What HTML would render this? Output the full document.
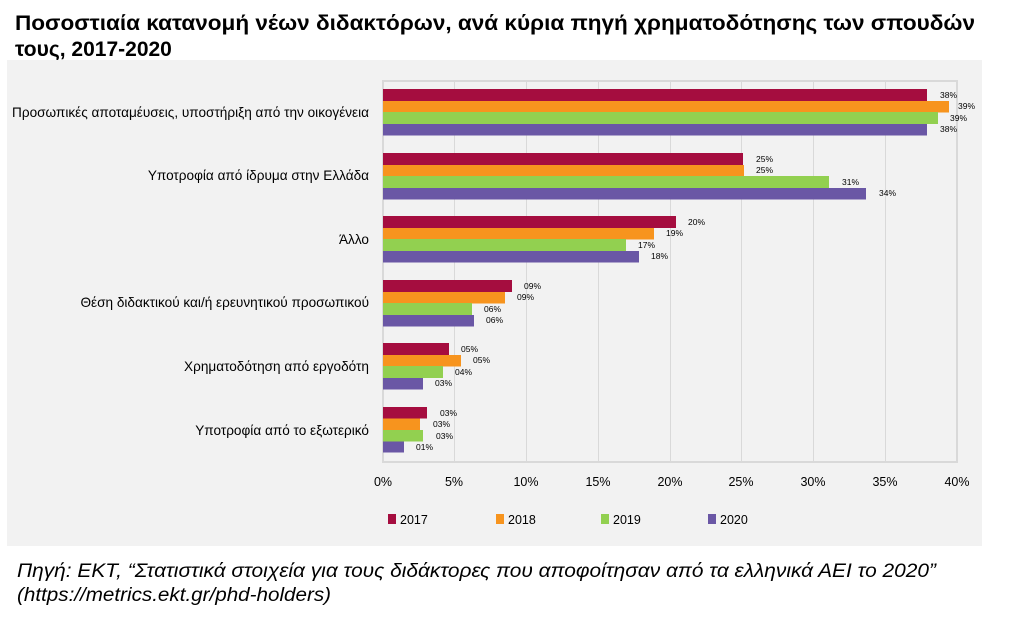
<!DOCTYPE html>
<html><head><meta charset="utf-8"><style>body{margin:0;background:#fff}svg{display:block}</style></head>
<body>
<svg width="1023" height="620" xmlns="http://www.w3.org/2000/svg" font-family="Liberation Sans, DejaVu Sans, sans-serif">
<text x="15" y="30" font-size="21" font-weight="bold" fill="#000" textLength="960" lengthAdjust="spacingAndGlyphs">Ποσοστιαία κατανομή νέων διδακτόρων, ανά κύρια πηγή χρηματοδότησης των σπουδών</text>
<text x="15" y="56" font-size="21" font-weight="bold" fill="#000">τους, 2017-2020</text>
<rect x="7" y="60" width="975" height="486" fill="#f2f2f2"/>
<g stroke="#d9d9d9" stroke-width="1">
<line x1="454.5" y1="81" x2="454.5" y2="462"/><line x1="526.5" y1="81" x2="526.5" y2="462"/>
<line x1="598.5" y1="81" x2="598.5" y2="462"/><line x1="670.5" y1="81" x2="670.5" y2="462"/>
<line x1="741.5" y1="81" x2="741.5" y2="462"/><line x1="813.5" y1="81" x2="813.5" y2="462"/>
<line x1="885.5" y1="81" x2="885.5" y2="462"/>
</g>
<rect x="383" y="81" width="574" height="381" fill="none" stroke="#d9d9d9" stroke-width="2"/>
<g font-size="13.6" fill="#000" text-anchor="end">
<text x="369" y="117">Προσωπικές αποταμέυσεις, υποστήριξη από την οικογένεια</text>
<text x="369" y="180">Υποτροφία από ίδρυμα στην Ελλάδα</text>
<text x="369" y="244">Άλλο</text>
<text x="369" y="307">Θέση διδακτικού και/ή ερευνητικού προσωπικού</text>
<text x="369" y="371">Χρηματοδότηση από εργοδότη</text>
<text x="369" y="435">Υποτροφία από το εξωτερικό</text>
</g>
<g font-size="12.5" fill="#000" text-anchor="middle">
<text x="383" y="486">0%</text><text x="454" y="486">5%</text><text x="526" y="486">10%</text><text x="598" y="486">15%</text><text x="670" y="486">20%</text><text x="741" y="486">25%</text><text x="813" y="486">30%</text><text x="885" y="486">35%</text><text x="957" y="486">40%</text>
</g>
<g font-size="12.5" fill="#000">
<rect x="388" y="514" width="8" height="10" fill="#a50d3f"/><text x="400" y="524">2017</text>
<rect x="496" y="514" width="8" height="10" fill="#f7941e"/><text x="508" y="524">2018</text>
<rect x="601" y="514" width="8" height="10" fill="#92d050"/><text x="613" y="524">2019</text>
<rect x="708" y="514" width="8" height="10" fill="#6a57a5"/><text x="720" y="524">2020</text>
</g>
<text x="17" y="577" font-size="19.5" font-style="italic" fill="#000" textLength="919" lengthAdjust="spacingAndGlyphs">Πηγή: ΕΚΤ, “Στατιστικά στοιχεία για τους διδάκτορες που αποφοίτησαν από τα ελληνικά ΑΕΙ το 2020”</text>
<text x="17" y="601" font-size="19.5" font-style="italic" fill="#000" textLength="314" lengthAdjust="spacingAndGlyphs">(https://metrics.ekt.gr/phd-holders)</text>
<g font-size="8.5" fill="#000">
<rect x="383" y="89" width="544" height="12" fill="#a50d3f"/><rect x="383" y="101" width="566" height="11.5" fill="#f7941e"/><rect x="383" y="112" width="555" height="12" fill="#92d050"/><rect x="383" y="124" width="544" height="11.5" fill="#6a57a5"/>
<text x="940" y="98">38%</text><text x="958" y="109">39%</text><text x="950" y="121">39%</text><text x="940" y="132">38%</text>
<rect x="383" y="153" width="360" height="12" fill="#a50d3f"/><rect x="383" y="165" width="361" height="11.5" fill="#f7941e"/><rect x="383" y="176" width="446" height="12" fill="#92d050"/><rect x="383" y="188" width="483" height="11.5" fill="#6a57a5"/>
<text x="756" y="162">25%</text><text x="756" y="173">25%</text><text x="842" y="185">31%</text><text x="879" y="196">34%</text>
<rect x="383" y="216" width="293" height="12" fill="#a50d3f"/><rect x="383" y="228" width="271" height="11.5" fill="#f7941e"/><rect x="383" y="239" width="243" height="12" fill="#92d050"/><rect x="383" y="251" width="256" height="11.5" fill="#6a57a5"/>
<text x="688" y="225">20%</text><text x="666" y="236">19%</text><text x="638" y="248">17%</text><text x="651" y="259">18%</text>
<rect x="383" y="280" width="129" height="12" fill="#a50d3f"/><rect x="383" y="292" width="122" height="11.5" fill="#f7941e"/><rect x="383" y="303" width="89" height="12" fill="#92d050"/><rect x="383" y="315" width="91" height="11.5" fill="#6a57a5"/>
<text x="524" y="289">09%</text><text x="517" y="300">09%</text><text x="484" y="312">06%</text><text x="486" y="323">06%</text>
<rect x="383" y="343" width="66" height="12" fill="#a50d3f"/><rect x="383" y="355" width="78" height="11.5" fill="#f7941e"/><rect x="383" y="366" width="60" height="12" fill="#92d050"/><rect x="383" y="378" width="40" height="11.5" fill="#6a57a5"/>
<text x="461" y="352">05%</text><text x="473" y="363">05%</text><text x="455" y="375">04%</text><text x="435" y="386">03%</text>
<rect x="383" y="407" width="44" height="11.5" fill="#a50d3f"/><rect x="383" y="418.5" width="37" height="11.5" fill="#f7941e"/><rect x="383" y="430" width="40" height="11.5" fill="#92d050"/><rect x="383" y="441.5" width="21" height="11" fill="#6a57a5"/>
<text x="440" y="416">03%</text><text x="433" y="427">03%</text><text x="436" y="439">03%</text><text x="416" y="450">01%</text>
</g>
</svg>
</body></html>
